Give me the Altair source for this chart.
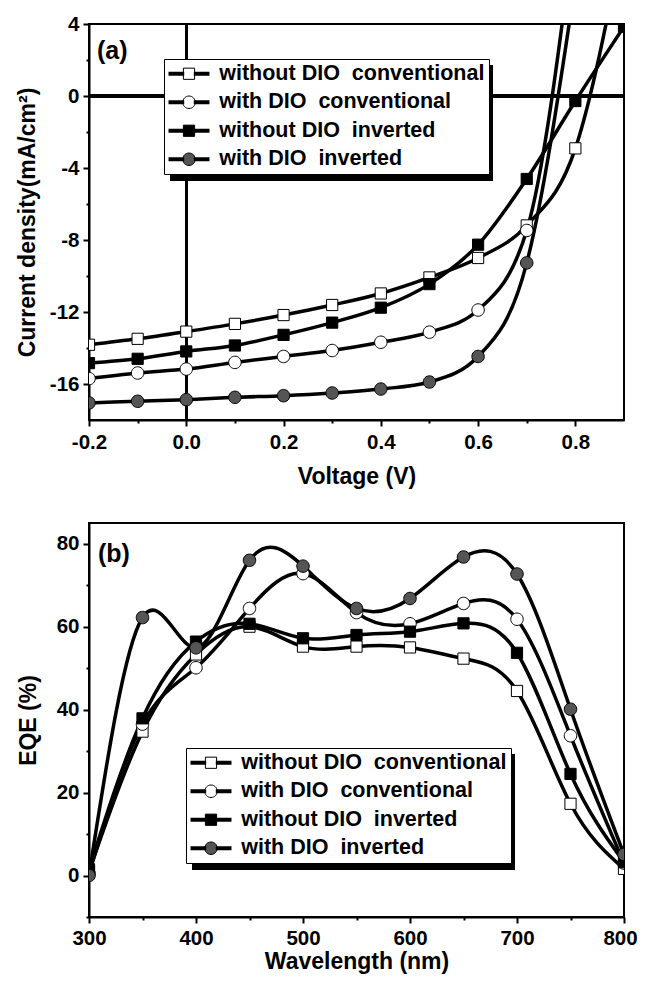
import altair as alt
import pandas as pd

FONT = "Liberation Sans"
LFS = 20.5
LEGFS = 21.5

SERIES = [
    "without DIO\u00a0 conventional",
    "with DIO\u00a0 conventional",
    "without DIO\u00a0 inverted",
    "with DIO\u00a0 inverted",
]
SQ = "M-0.7,-0.7H0.7V0.7H-0.7Z"
CIRC = "M-0.78,0A0.78,0.78,0,1,0,0.78,0A0.78,0.78,0,1,0,-0.78,0Z"
STUB = "M-2.56,0H-0.6M0.6,0H2.56"
SHADOW_BOX = "M-19.64,-1.344H19.64V1.344H-19.64Z"
SHAPES = [SQ, CIRC, SQ, CIRC]
FILLS = ["white", "white", "black", "#555555"]

# ---- panel (a): J-V curves ----
voltage = [-0.2, -0.1, 0.0, 0.1, 0.2, 0.3, 0.4, 0.5, 0.6, 0.7, 0.8, 0.9]
j_wo_conv = [-13.82, -13.49, -13.09, -12.66, -12.17, -11.61, -10.97, -10.08, -9.0, -7.19, -2.91, 9.0]
j_w_conv = [-15.70, -15.39, -15.17, -14.80, -14.47, -14.14, -13.68, -13.12, -11.89, -7.47, 9.7]
j_wo_inv = [-14.84, -14.60, -14.19, -13.86, -13.27, -12.59, -11.76, -10.45, -8.26, -4.61, -0.28, 3.85]
j_w_inv = [-17.05, -16.96, -16.87, -16.74, -16.65, -16.50, -16.28, -15.89, -14.47, -9.27, 6.3]

# ---- panel (b): EQE ----
wavelength = [300, 350, 400, 450, 500, 550, 600, 650, 700, 750, 800]
eqe_wo_conv = [1.0, 34.7, 53.3, 60.0, 55.2, 55.2, 55.0, 52.3, 44.5, 17.3, 1.6]
eqe_w_conv = [0.5, 36.5, 50.1, 64.4, 72.8, 63.4, 60.7, 65.6, 61.8, 33.7, 3.0]
eqe_wo_inv = [1.5, 37.9, 56.4, 60.7, 57.2, 58.0, 58.8, 60.8, 53.7, 24.5, 3.2]
eqe_w_inv = [0.0, 62.2, 54.9, 76.0, 74.6, 64.4, 66.8, 76.8, 72.7, 40.1, 5.1]

xa_ticks = [-0.2, -0.1, 0.0, 0.1, 0.2, 0.3, 0.4, 0.5, 0.6, 0.7, 0.8]
ya_ticks = [-16, -14, -12, -10, -8, -6, -4, -2, 0, 2, 4]
xb_ticks = [300, 350, 400, 450, 500, 550, 600, 650, 700, 750, 800]
yb_ticks = [-10, 0, 10, 20, 30, 40, 50, 60, 70, 80]

# distinct domains so the stacked legend layers stay separate
SER_SHADOW = [s + "\u200b" for s in SERIES]
SER_STUB = [s + "\u200b\u200b" for s in SERIES]


def to_long(xs, cols, xname, yname):
    rows = []
    for s, ys in zip(SERIES, cols):
        for x, y in zip(xs, ys):
            rows.append({xname: x, yname: y, "s": s})
    return pd.DataFrame(rows)


df_a = to_long(voltage, [j_wo_conv, j_w_conv, j_wo_inv, j_w_inv], "V", "J")
df_b = to_long(wavelength, [eqe_wo_conv, eqe_w_conv, eqe_wo_inv, eqe_w_inv], "W", "E")


def panel(df, xf, yf, xscale, yscale, xaxis, yaxis, interp, lx, ly, tag, tag_x, tag_y, w, h, zero_lines):
    X = alt.X(f"{xf}:Q", scale=xscale, axis=xaxis)
    Y = alt.Y(f"{yf}:Q", scale=yscale, axis=yaxis)
    base = alt.Chart(df)
    common = dict(
        orient="none", labelFont=FONT, labelFontSize=LEGFS, labelFontWeight="bold",
        labelLimit=400, padding=4, symbolSize=256, rowPadding=5.5,
    )
    layers = []
    if zero_lines:
        layers.append(base.mark_rule(color="black", strokeWidth=2.5).encode(
            x=alt.XDatum(0, scale=xscale, axis=xaxis)))
        layers.append(base.mark_rule(color="black", strokeWidth=2.5).encode(
            y=alt.YDatum(0, scale=yscale, axis=yaxis)))
    lines = base.mark_line(interpolate=interp, stroke="black", strokeWidth=3.5, clip=True).encode(
        x=X, y=Y, detail="s:N"
    )
    # drop shadow of the legend box
    shadow = base.transform_filter("false").mark_point(filled=True).encode(
        x=X, y=Y,
        color=alt.Color("s:N", title=None,
                        scale=alt.Scale(domain=SER_SHADOW, range=["black"] * 4),
                        legend=alt.Legend(legendX=lx + 6, legendY=ly + 6, fillColor="black",
                                          labelExpr="''", symbolOffset=146.5,
                                          symbolType=SHADOW_BOX, labelOffset=0, **common)),
    )
    # main legend: box, markers and labels
    leg_pts = alt.Legend(legendX=lx, legendY=ly, labelColor="black", fillColor="white",
                         strokeColor="black", symbolOffset=10.25,
                         labelOffset=19.5, symbolStrokeWidth=1, **common)
    pts = base.mark_point(filled=True, size=256, strokeWidth=1, opacity=1, clip=True).encode(
        x=X, y=Y,
        shape=alt.Shape("s:N", title=None, scale=alt.Scale(domain=SERIES, range=SHAPES), legend=leg_pts),
        fill=alt.Fill("s:N", title=None, scale=alt.Scale(domain=SERIES, range=FILLS), legend=leg_pts),
        stroke=alt.Stroke("s:N", title=None, scale=alt.Scale(domain=SERIES, range=["black"] * 4), legend=leg_pts),
    )
    # line stubs through the legend markers
    stubs = base.transform_filter("false").mark_line(stroke="black", strokeWidth=4).encode(
        x=X, y=Y,
        opacity=alt.Opacity("s:N", title=None,
                            scale=alt.Scale(domain=SER_STUB, range=[1, 1, 1, 1]),
                            legend=alt.Legend(legendX=lx, legendY=ly, labelExpr="''",
                                              symbolOffset=10.25, labelOffset=0,
                                              symbolType=STUB, symbolStrokeColor="black",
                                              symbolStrokeWidth=4, **common)),
    )
    label = alt.Chart(pd.DataFrame({"t": [tag]})).mark_text(
        align="left", baseline="middle", fontSize=25, fontWeight="bold", font=FONT, color="black"
    ).encode(text="t:N", x=alt.value(tag_x), y=alt.value(tag_y))
    layers += [lines, shadow, pts, stubs, label]
    return alt.layer(*layers).properties(width=w, height=h)


def major_minor(test):
    return alt.condition(test, alt.value(6), alt.value(3))


XA_MAJOR = "abs(round(datum.value*10)) % 2 == 0"
YA_MAJOR = "datum.value % 4 == 0"
XB_MAJOR = "datum.value % 100 == 0"
YB_MAJOR = "datum.value % 20 == 0"

xa_axis = alt.Axis(values=xa_ticks, title="Voltage (V)", titlePadding=13, labelPadding=6,
                   tickSize=major_minor(XA_MAJOR), labelFlush=False, labelOverlap=False,
                   labelExpr=XA_MAJOR + " ? replace(format(datum.value, '.1f'), '\u2212', '-') : ''")
ya_axis = alt.Axis(values=ya_ticks, title="Current density(mA/cm\u00b2)", titlePadding=10,
                   tickSize=major_minor(YA_MAJOR), labelPadding=4, labelFlush=False, labelOverlap=False,
                   labelExpr=YA_MAJOR + " ? '' + datum.value : ''")

pa = panel(
    df_a, "V", "J",
    alt.Scale(domain=[-0.2, 0.9], nice=False, zero=False),
    alt.Scale(domain=[-18, 4], nice=False, zero=False),
    xa_axis, ya_axis,
    "monotone", 75, 35, "(a)", 8, 27, 535, 396, True,
)

xb_axis = alt.Axis(values=xb_ticks, title="Wavelength (nm)", titlePadding=2, labelPadding=5,
                   tickSize=major_minor(XB_MAJOR), labelFlush=False, labelOverlap=False,
                   labelOffset=alt.condition("datum.value == 800", alt.value(-4), alt.value(0)),
                   labelExpr=XB_MAJOR + " ? '' + datum.value : ''")
yb_axis = alt.Axis(values=yb_ticks, title="EQE  (%)", titlePadding=16,
                   tickSize=major_minor(YB_MAJOR), labelPadding=4, labelFlush=False, labelOverlap=False,
                   labelExpr=YB_MAJOR + " ? '' + datum.value : ''")

pb = panel(
    df_b, "W", "E",
    alt.Scale(domain=[300, 800], nice=False, zero=False),
    alt.Scale(domain=[-10, 85], nice=False, zero=False),
    xb_axis, yb_axis,
    "natural", 97, 225, "(b)", 9, 31, 535, 394, False,
)

chart = (
    alt.vconcat(pa, pb, spacing=32)
    .resolve_scale(color="independent", opacity="independent", shape="independent",
                   fill="independent", stroke="independent")
    .properties(padding={"left": 7, "top": 5, "right": 0, "bottom": 0}, background="white")
    .configure_view(stroke="black", strokeWidth=2)
    .configure_axis(
        labelFont=FONT, labelFontSize=LFS, labelFontWeight="bold", labelColor="black",
        titleFont=FONT, titleFontSize=23, titleFontWeight="bold", titleColor="black",
        domainColor="black", domainWidth=2, tickColor="black", tickWidth=2, grid=False,
    )
)

chart.save("out.html", embed_options={"renderer": "svg", "actions": False})
